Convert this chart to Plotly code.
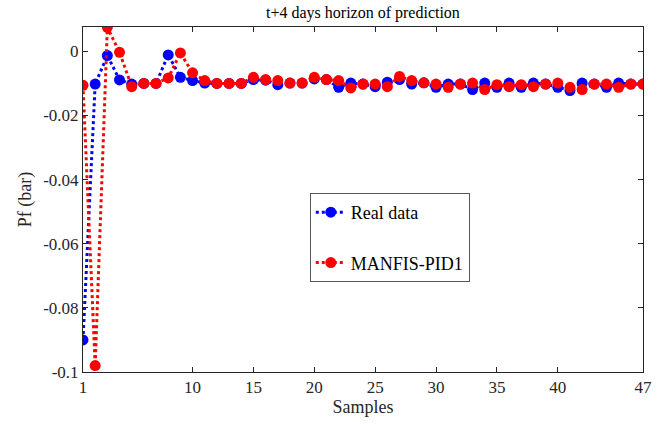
import plotly.graph_objects as go

samples = list(range(1, 48))
real_data = [-0.0900, -0.0102, -0.0013, -0.0089, -0.0102, -0.0100, -0.0100, -0.0011, -0.0081, -0.0091,
             -0.0099, -0.0100, -0.0100, -0.0100, -0.0088, -0.0090, -0.0104, -0.0099, -0.0099, -0.0086,
             -0.0088, -0.0112, -0.0099, -0.0102, -0.0110, -0.0096, -0.0088, -0.0102, -0.0098, -0.0112,
             -0.0102, -0.0102, -0.0119, -0.0099, -0.0112, -0.0099, -0.0112, -0.0099, -0.0102, -0.0112,
             -0.0122, -0.0099, -0.0102, -0.0112, -0.0099, -0.0102, -0.0102]
manfis = [-0.0106, -0.0980, 0.0075, -0.0003, -0.0110, -0.0100, -0.0100, -0.0083, -0.0005, -0.0067,
          -0.0091, -0.0100, -0.0100, -0.0100, -0.0081, -0.0088, -0.0091, -0.0099, -0.0099, -0.0081,
          -0.0088, -0.0091, -0.0114, -0.0102, -0.0102, -0.0110, -0.0078, -0.0091, -0.0098, -0.0102,
          -0.0112, -0.0102, -0.0099, -0.0119, -0.0104, -0.0110, -0.0104, -0.0110, -0.0102, -0.0099,
          -0.0112, -0.0119, -0.0102, -0.0102, -0.0112, -0.0102, -0.0102]

x_ticks = [1, 10, 15, 20, 25, 30, 35, 40, 47]
y_ticks = [0, -0.02, -0.04, -0.06, -0.08, -0.1]
y_tick_labels = ["0", "-0.02", "-0.04", "-0.06", "-0.08", "-0.1"]

FONT = "Liberation Serif"
AX = "#262626"

fig = go.Figure()
fig.add_trace(go.Scatter(x=samples, y=real_data, mode="lines+markers", name="Real data",
                         legendgroup="a",
                         line=dict(color="#0000ff", width=3, dash="dot"),
                         marker=dict(color="#0000ff", size=11, symbol="circle")))
fig.add_trace(go.Scatter(x=samples, y=manfis, mode="lines+markers", name="MANFIS-PID1",
                         legendgroup="b",
                         line=dict(color="#ff0000", width=3, dash="dot"),
                         marker=dict(color="#ff0000", size=11, symbol="circle")))

fig.add_annotation(text="t+4 days horizon of prediction", xref="paper", yref="paper",
                   x=0.5, y=1, xanchor="center", yanchor="bottom", yshift=3, showarrow=False,
                   font=dict(family=FONT, size=16, color="#000000"))

fig.update_layout(
    width=662, height=429,
    margin=dict(l=83, r=19, t=27, b=57, autoexpand=False),
    paper_bgcolor="white", plot_bgcolor="white",
    font=dict(family=FONT, size=16, color=AX),
    showlegend=True,
    legend=dict(x=0.405, y=0.519, xanchor="left", yanchor="top",
                bordercolor="#555555", borderwidth=1, bgcolor="white",
                font=dict(family=FONT, size=18, color="#000000"),
                tracegroupgap=24, itemwidth=30),
    xaxis=dict(range=[1, 47], tickvals=x_ticks, ticktext=[str(v) for v in x_ticks],
               automargin=False,
               showgrid=False, zeroline=False, showline=True, linecolor=AX, linewidth=1,
               mirror="ticks", ticks="inside", ticklen=5, tickcolor=AX,
               tickfont=dict(family=FONT, size=17, color=AX),
               title=dict(text="Samples", font=dict(family=FONT, size=18, color=AX), standoff=3)),
    yaxis=dict(range=[-0.1, 0.0076], tickvals=y_ticks, ticktext=y_tick_labels,
               automargin=False,
               showgrid=False, zeroline=False, showline=True, linecolor=AX, linewidth=1,
               mirror="ticks", ticks="inside", ticklen=5, tickcolor=AX,
               tickfont=dict(family=FONT, size=17, color=AX),
               title=dict(text="Pf (bar)", font=dict(family=FONT, size=18, color=AX), standoff=6)),
)

fig.write_html("out.html", config={"displayModeBar": False},
               post_script="document.body.style.margin='0';document.body.style.overflow='hidden';")
